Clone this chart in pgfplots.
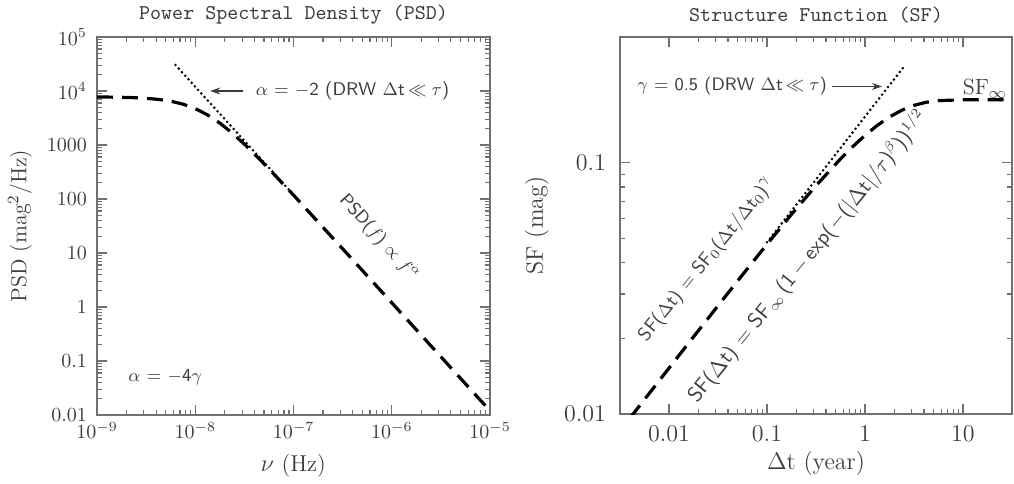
\documentclass[border=0pt]{standalone}
\usepackage{pgfplots}
\pgfplotsset{compat=1.18}
\usetikzlibrary{arrows.meta}
\definecolor{ink}{HTML}{3C3C3C}
\definecolor{framegray}{HTML}{707070}

\pgfplotsset{
  panel/.style={
    axis line style={framegray, line width=0.7pt},
    every tick/.style={framegray, line width=0.6pt},
    major tick length=5pt, minor tick length=2.6pt,
    tick align=inside, tick pos=both,
    label style={font=\fontsize{11}{13}\selectfont, text=ink},
    ticklabel style={text=ink},
  },
}
\tikzset{
  dashcurve/.style={black, line width=1.6pt, dash pattern=on 8pt off 4.5pt},
  dotcurve/.style={black, line width=1.4pt, line cap=round, dash pattern=on 0pt off 2.4pt},
  note/.style={font=\sffamily\fontsize{9.2}{11}\selectfont, text=ink, inner sep=0pt},
  ttl/.style={font=\ttfamily\fontsize{10.5}{12}\selectfont, text=ink},
}

\begin{document}
\begin{tikzpicture}
\useasboundingbox (0,0) rectangle (507pt,241.5pt);

% ---------------- PSD panel
\begin{loglogaxis}[panel, name=psd,
  scale only axis, anchor=south west,
  at={(48.5pt,34pt)}, width=196.5pt, height=189pt,
  xmin=1e-9, xmax=1e-5, ymin=0.01, ymax=1e5,
  xtick={1e-9,1e-8,1e-7,1e-6,1e-5},
  ytick={0.01,0.1,1,10,100,1000,10000,100000},
  yticklabels={0.01,0.1,1,10,100,1000,$10^4$,$10^5$},
  ticklabel style={font=\fontsize{10}{12}\selectfont},
  yticklabel style={xshift=-1.5pt},
  xlabel={$\nu$ (Hz)},
  xlabel style={at={(axis description cs:0.5,-0.135)}, anchor=center, font=\fontsize{11.5}{13}\selectfont},
  ylabel={PSD (mag$^2$/Hz)},
  ylabel style={at={(axis description cs:-0.196,0.5)}, anchor=center},
]
\addplot[dashcurve] coordinates {
 (1e-9,7749.6) (1.3335e-9,7710.8) (1.7783e-9,7642.8) (2.3714e-9,7524.8)
 (3.1623e-9,7323.7) (4.2170e-9,6991.5) (5.6234e-9,6469.6) (7.4989e-9,5711.3)
 (1e-8,4726.3) (1.3335e-8,3616.9) (1.7783e-8,2551.9) (2.3714e-8,1674.9)
 (3.1623e-8,1039.6) (4.2170e-8,620.8) (5.6234e-8,361.7) (1e-7,118.1)
 (3.1623e-7,11.98) (1e-6,1.1992) (3.1623e-6,0.11994) (1e-5,0.011994)
};
\addplot[dotcurve] coordinates {(6.3e-9,30230) (1.1e-7,99.2)};
\draw[ink, line width=0.6pt, -{Stealth[length=5pt,width=3.5pt]}]
  (axis cs:3.09e-8,1e4) -- (axis cs:1.42e-8,1e4);
\node[note, anchor=west] at (axis cs:4.1e-8,1e4)
  {$\alpha$ = $-$2 (DRW $\Delta$t$\,\ll\tau$)};
\node[note, anchor=west] at (axis cs:2.07e-9,0.05) {$\alpha$ = $-$4$\gamma$};
\node[note, rotate=-48, font=\sffamily\fontsize{9}{11}\selectfont]
  at (axis cs:7.36e-7,19) {PSD($f$) $\propto$ $f^{\alpha}$};
\end{loglogaxis}
\node[ttl, yshift=11pt] at (psd.north) {Power Spectral Density (PSD)};

% ---------------- SF panel
\begin{loglogaxis}[panel, name=sf,
  scale only axis, anchor=south west,
  at={(310pt,34.5pt)}, width=196pt, height=188.5pt,
  xmin=0.0031623, xmax=31.623, ymin=0.01, ymax=0.31623,
  xtick={0.01,0.1,1,10}, xticklabels={0.01,0.1,1,10},
  ytick={0.01,0.1}, yticklabels={0.01,0.1},
  ticklabel style={font=\fontsize{12}{14}\selectfont},
  xticklabel style={yshift=-2pt},
  yticklabel style={xshift=-3.5pt},
  xlabel={$\Delta$t (year)},
  xlabel style={at={(axis description cs:0.5,-0.130)}, anchor=center, font=\fontsize{12}{14}\selectfont},
  ylabel={SF (mag)},
  ylabel style={at={(axis description cs:-0.212,0.5)}, anchor=center, font=\fontsize{12}{14}\selectfont},
]
\addplot[dashcurve] coordinates {
 (0.004,0.00964) (0.005623,0.011426) (0.01,0.015224) (0.01778,0.020272)
 (0.03162,0.026965) (0.05623,0.035797) (0.1,0.047360) (0.1778,0.062272)
 (0.3162,0.081018) (0.5623,0.10352) (0.7499,0.11582) (1,0.12838)
 (1.3335,0.14065) (1.778,0.15197) (2.371,0.16164) (3.162,0.16904)
 (4.217,0.17393) (5.623,0.17656) (10,0.17794) (17.78,0.17800) (31.62,0.17800)
};
\addplot[dotcurve] coordinates {(0.1,0.04822) (2.56,0.2440)};
\draw[ink, line width=0.6pt, -{Stealth[length=5pt,width=3.5pt]}]
  (axis cs:0.46,0.201) -- (axis cs:1.49,0.201);
\node[note, anchor=west, font=\sffamily\fontsize{9}{11}\selectfont] at (axis cs:0.0047,0.201)
  {$\gamma$ = 0.5 (DRW $\Delta$t$\,\ll\tau$)};
\node[note, font=\rmfamily\fontsize{11}{13}\selectfont] at (axis cs:16.7,0.197) {SF$_\infty$};
\node[note, rotate=51, font=\sffamily\fontsize{9.5}{11}\selectfont]
  at (axis cs:0.0244,0.0411) {SF($\Delta$t) = SF$_0$($\Delta$t/$\Delta$t$_0$)$^{\gamma}$};
\node[note, rotate=51, font=\sffamily\fontsize{10.5}{12}\selectfont]
  at (axis cs:0.262,0.0422)
  {SF($\Delta$t) = SF$_\infty$\,(1$\,-\,$exp($-$($|\Delta$t$|/\tau$)$^{\beta}$))$^{1/2}$};
\end{loglogaxis}
\node[ttl, yshift=11pt] at (sf.north) {Structure Function (SF)};
\end{tikzpicture}
\end{document}
